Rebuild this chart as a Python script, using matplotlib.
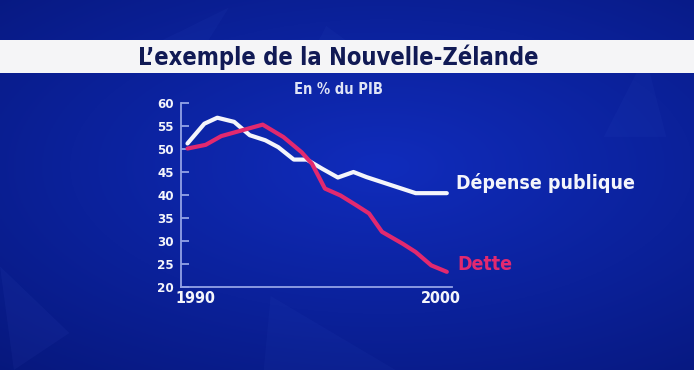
import numpy as np
import matplotlib.pyplot as plt
import matplotlib.transforms as mtransforms
from matplotlib.patches import Rectangle, Polygon

# Données (en % du PIB)
annees_depense = [1990, 1990.65, 1991.15, 1991.8, 1992.4, 1993.0, 1993.5, 1994.1,
                  1994.6, 1995.2, 1995.8, 1996.4, 1996.9, 1998.8, 2000]
depense = [51.2, 55.5, 56.8, 55.9, 53.0, 51.9, 50.4, 47.7,
           47.7, 45.7, 43.8, 45.0, 43.9, 40.4, 40.4]

annees_dette = [1990, 1990.7, 1991.3, 1992.0, 1992.9, 1993.7, 1994.4, 1994.8,
                1995.3, 1995.9, 1996.5, 1997.0, 1997.5, 1998.3, 1998.8, 1999.4, 2000]
dette = [50.1, 50.9, 52.8, 53.9, 55.3, 52.6, 49.3, 46.8,
         41.4, 39.9, 37.8, 36.0, 32.0, 29.4, 27.6, 24.7, 23.3]

yticks = [20, 25, 30, 35, 40, 45, 50, 55, 60]
xticks = [1990, 2000]

titre = "L\u2019exemple de la Nouvelle-Zélande"
sous_titre = "En % du PIB"

plt.rcParams['font.family'] = ['DejaVu Sans']
plt.rcParams['font.stretch'] = 'condensed'

blanc = '#f4f5fb'
rose = '#e2296f'
axe = '#93a2e6'

fig = plt.figure(figsize=(6.94, 3.70), dpi=100)

# fond bleu en dégradé
bg = fig.add_axes([0, 0, 1, 1])
bg.set_axis_off()
yy, xx = np.mgrid[0:1:200j, 0:1:300j]
d = np.sqrt(((xx - 0.55) / 0.9) ** 2 + ((yy - 0.45) / 0.8) ** 2)
t = np.clip(d, 0, 1)
c0 = np.array([16, 44, 188]) / 255
c1 = np.array([6, 22, 120]) / 255
img = c0[None, None, :] * (1 - t[..., None]) + c1[None, None, :] * t[..., None]
bg.imshow(img, extent=[0, 1, 0, 1], aspect='auto', origin='upper')
bg.set_xlim(0, 1)
bg.set_ylim(0, 1)
# quelques triangles décoratifs
for pts, a in [([(0.87, 0.63), (0.96, 0.63), (0.93, 0.85)], 0.04),
               ([(0.38, 0.0), (0.57, 0.0), (0.39, 0.2)], 0.04),
               ([(0.0, 0.28), (0.02, 0.0), (0.1, 0.1)], 0.05),
               ([(0.33, 0.98), (0.29, 0.86), (0.2, 0.86)], 0.04),
               ([(0.47, 0.93), (0.55, 0.82), (0.44, 0.82)], 0.04)]:
    bg.add_patch(Polygon(pts, closed=True, color='#6f8cff', alpha=a, lw=0))

# bandeau du titre
bg.add_patch(Rectangle((0, 1 - 73 / 370), 1, 33 / 370, color='#f5f5f7', lw=0))
fig.text(0.487, 1 - 57 / 370, titre, ha='center', va='center',
         fontsize=17, fontweight='bold', color='#111a55')
fig.text(0.487, 1 - 89 / 370, sous_titre, ha='center', va='center',
         fontsize=10.5, fontweight='bold', color='#dfe4f6')

ax = fig.add_axes([181 / 694, 1 - 287 / 370, 271 / 694, 184 / 370])
ax.patch.set_alpha(0)
ax.plot(annees_depense, depense, color=blanc, lw=3, solid_joinstyle='round',
        solid_capstyle='round')
ax.plot(annees_dette, dette, color=rose, lw=3, solid_joinstyle='round',
        solid_capstyle='round')

ax.set_xlim(1989.75, 2000.2)
ax.set_ylim(20, 60)
ax.set_yticks(yticks)
ax.set_xticks(xticks)
for s in ['top', 'right']:
    ax.spines[s].set_visible(False)
for s in ['left', 'bottom']:
    ax.spines[s].set_color(axe)
    ax.spines[s].set_linewidth(1.3)
ax.tick_params(axis='y', direction='in', length=6, width=1.3, color=axe,
               labelsize=9.5, labelcolor=blanc, pad=5)
ax.tick_params(axis='x', length=0, labelsize=11.5, labelcolor=blanc, pad=3)
for lab in ax.get_xticklabels() + ax.get_yticklabels():
    lab.set_fontweight('bold')
# décalage des années comme sur l'original
for lab, dx in zip(ax.get_xticklabels(), [8, -6]):
    lab.set_transform(lab.get_transform() +
                      mtransforms.ScaledTranslation(dx / 100, 0, fig.dpi_scale_trans))

fig.text(456 / 694, 1 - 183 / 370, "Dépense publique", ha='left', va='center',
         fontsize=14, fontweight='bold', color=blanc)
fig.text(457 / 694, 1 - 264 / 370, "Dette", ha='left', va='center',
         fontsize=14, fontweight='bold', color=rose)

fig.savefig('out.png', dpi=100)
